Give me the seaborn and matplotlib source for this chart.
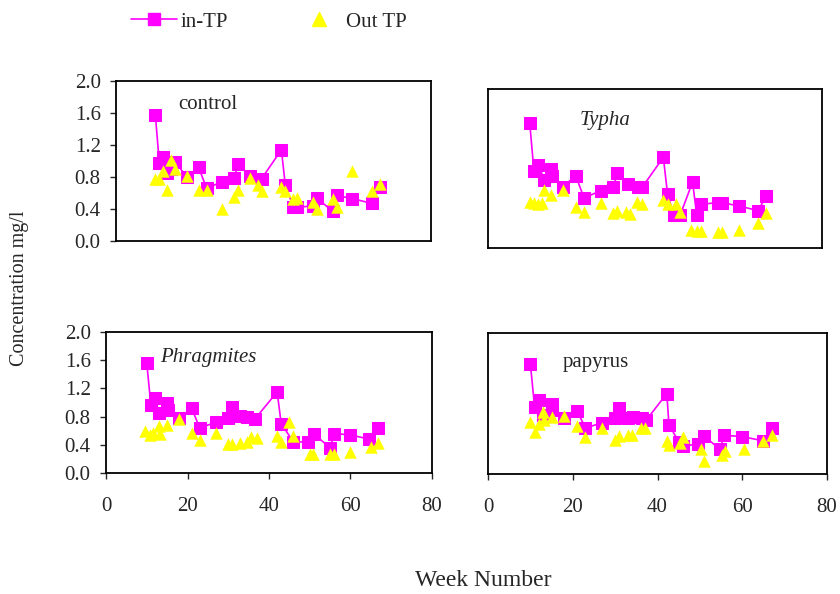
import numpy as np
import pandas as pd
import seaborn as sns
import matplotlib.pyplot as plt
from matplotlib.lines import Line2D

# data (week number, TP concentration mg/l)
control_in_wk = [10, 11, 12, 13, 14, 15, 18, 21, 23, 27, 30, 31, 34, 37, 42, 43, 45, 46, 50, 51, 55, 56, 60, 65, 67]
control_in = [1.57, 0.98, 1.05, 0.85, 0.90, 0.99, 0.80, 0.92, 0.66, 0.74, 0.79, 0.96, 0.81, 0.78, 1.14, 0.70, 0.43, 0.42, 0.44, 0.54, 0.37, 0.57, 0.53, 0.47, 0.67]
control_out_wk = [10, 11, 12, 13, 14, 15, 18, 21, 23, 27, 30, 31, 34, 36, 37, 42, 43, 45, 46, 50, 51, 55, 56, 60, 65, 67]
control_out = [0.77, 0.78, 0.87, 0.64, 1.01, 0.90, 0.81, 0.64, 0.64, 0.40, 0.55, 0.64, 0.79, 0.70, 0.62, 0.68, 0.63, 0.53, 0.54, 0.49, 0.40, 0.53, 0.43, 0.87, 0.63, 0.71]

typha_in_wk = [10, 11, 12, 13.5, 15, 15.3, 18, 21, 23, 27, 30, 31, 33.5, 36, 37, 42, 43, 44.5, 46, 49, 50, 51, 55, 56, 60, 64.7, 66.7]
typha_in = [1.57, 0.97, 1.05, 0.86, 0.99, 0.91, 0.77, 0.91, 0.63, 0.72, 0.77, 0.94, 0.81, 0.77, 0.77, 1.14, 0.68, 0.42, 0.41, 0.83, 0.41, 0.55, 0.57, 0.57, 0.53, 0.47, 0.66]
typha_out_wk = [10, 11, 12, 13, 13.3, 15, 18, 21, 23, 27, 30, 31, 33, 34, 35.6, 37, 42, 43, 45, 46, 48.6, 50, 51, 55, 56, 60, 64.7, 66.7]
typha_out = [0.58, 0.56, 0.55, 0.57, 0.73, 0.67, 0.73, 0.52, 0.45, 0.56, 0.44, 0.46, 0.45, 0.43, 0.58, 0.55, 0.60, 0.55, 0.55, 0.45, 0.23, 0.21, 0.21, 0.20, 0.20, 0.23, 0.32, 0.44]

phrag_in_wk = [10, 11, 12, 13, 15, 15.1, 18, 21, 23, 27, 30, 31, 33, 34.5, 36.6, 42, 43, 46, 49.6, 51, 55, 56, 60, 64.6, 66.8]
phrag_in = [1.56, 0.97, 1.06, 0.85, 0.99, 0.90, 0.78, 0.92, 0.64, 0.72, 0.78, 0.94, 0.81, 0.80, 0.77, 1.15, 0.70, 0.44, 0.44, 0.55, 0.36, 0.56, 0.54, 0.48, 0.64]
phrag_out_wk = [9.6, 10.8, 11.6, 13.1, 13.3, 15, 18, 21, 23, 27, 30, 31, 33, 34.5, 35.7, 37, 42, 43, 45, 46, 50, 50.7, 55, 56, 60, 65, 66.8]
phrag_out = [0.60, 0.54, 0.57, 0.66, 0.55, 0.68, 0.77, 0.57, 0.47, 0.57, 0.41, 0.41, 0.42, 0.44, 0.51, 0.50, 0.53, 0.44, 0.72, 0.53, 0.27, 0.27, 0.27, 0.27, 0.30, 0.37, 0.42]

papyrus_in_wk = [10, 11, 12, 13, 15, 15.1, 18, 21, 23, 27, 30, 31, 33, 34.3, 36.3, 37.4, 42.2, 42.7, 45, 46, 49.5, 51, 54.7, 55.8, 60, 65, 67]
papyrus_in = [1.56, 0.95, 1.05, 0.84, 1.00, 0.91, 0.79, 0.90, 0.65, 0.73, 0.79, 0.93, 0.79, 0.81, 0.79, 0.77, 1.14, 0.70, 0.46, 0.40, 0.42, 0.54, 0.35, 0.55, 0.53, 0.47, 0.65]
papyrus_out_wk = [10, 11, 12, 13, 13.3, 15, 18, 21, 23, 27, 30, 31, 33, 34, 36, 37, 42.2, 42.7, 45.3, 46, 50.2, 51, 55.2, 55.9, 60.3, 65, 67]
papyrus_out = [0.74, 0.60, 0.71, 0.88, 0.76, 0.81, 0.82, 0.68, 0.52, 0.65, 0.48, 0.54, 0.55, 0.55, 0.65, 0.65, 0.47, 0.41, 0.44, 0.52, 0.36, 0.19, 0.27, 0.33, 0.35, 0.47, 0.55]

sns.set_style("white")
plt.rcParams['font.family'] = ['Liberation Serif', 'DejaVu Serif']

W, H = 840, 594
fig = plt.figure(figsize=(8.4, 5.94), dpi=100)

def box(l, t, r, b):
    return [l / W, 1 - b / H, (r - l) / W, (b - t) / H]

panels = [
    ("control", "normal", box(116, 81, 431, 241), control_in_wk, control_in, control_out_wk, control_out, (0.197, 0.856), True, False),
    ("Typha", "italic", box(488, 89, 822, 248), typha_in_wk, typha_in, typha_out_wk, typha_out, (0.275, 0.80), False, False),
    ("Phragmites", "italic", box(106, 332, 432, 473), phrag_in_wk, phrag_in, phrag_out_wk, phrag_out, (0.166, 0.816), True, True),
    ("papyrus", "normal", box(488, 333, 827, 474), papyrus_in_wk, papyrus_in, papyrus_out_wk, papyrus_out, (0.221, 0.794), False, True),
]

MAG = "#FF00FF"
YEL = "#FFFF00"

for name, style, pos, iw, iv, ow, ov, lab, yt, xt in panels:
    ax = fig.add_axes(pos)
    df_in = pd.DataFrame({"week": iw, "tp": iv})
    df_out = pd.DataFrame({"week": ow, "tp": ov})
    sns.lineplot(data=df_in, x="week", y="tp", ax=ax, color=MAG, lw=1.2,
                 marker="s", markersize=8, markeredgecolor=MAG, sort=True, zorder=2)
    sns.scatterplot(data=df_out, x="week", y="tp", ax=ax, color=YEL, marker="^",
                    s=80, edgecolor=YEL, linewidth=0, zorder=3)
    ax.set_xlim(0, 80)
    ax.set_ylim(0, 2.0)
    ax.set_xlabel("")
    ax.set_ylabel("")
    for sp in ax.spines.values():
        sp.set_visible(True)
        sp.set_color("black")
        sp.set_linewidth(1.3)
    if yt:
        ax.set_yticks(np.arange(0, 2.01, 0.4))
        ax.set_yticklabels([f"{v:.1f}" for v in np.arange(0, 2.01, 0.4)])
        ax.tick_params(axis="y", left=True, direction="out", length=4, width=1, labelsize=15, pad=7)
    else:
        ax.set_yticks([])
    if xt:
        ax.set_xticks([0, 20, 40, 60, 80])
        ax.tick_params(axis="x", bottom=True, direction="out", length=4, width=1, labelsize=15, pad=13)
    else:
        ax.set_xticks([])
    ax.text(lab[0], lab[1], name, transform=ax.transAxes, fontsize=15,
            style=style, ha="left", va="center")

handles = [
    Line2D([], [], color=MAG, lw=1.2, marker="s", markersize=8, markeredgecolor=MAG),
    Line2D([], [], color=YEL, lw=0, marker="^", markersize=9.5, markeredgecolor=YEL),
]
fig.legend(handles, ["in-TP", "Out TP"], loc="upper left", bbox_to_anchor=(0.139, 1.004),
           ncol=2, frameon=False, fontsize=15, handlelength=2.2, handletextpad=0.15,
           columnspacing=3.3, borderpad=0.2)

fig.text(20 / W, 1 - 288 / H, "Concentration mg/l", rotation=90, ha="center", va="center", fontsize=14.5)
fig.text(483 / W, 1 - 580 / H, "Week Number", ha="center", va="center", fontsize=17)

fig.savefig("out.png", dpi=100)
